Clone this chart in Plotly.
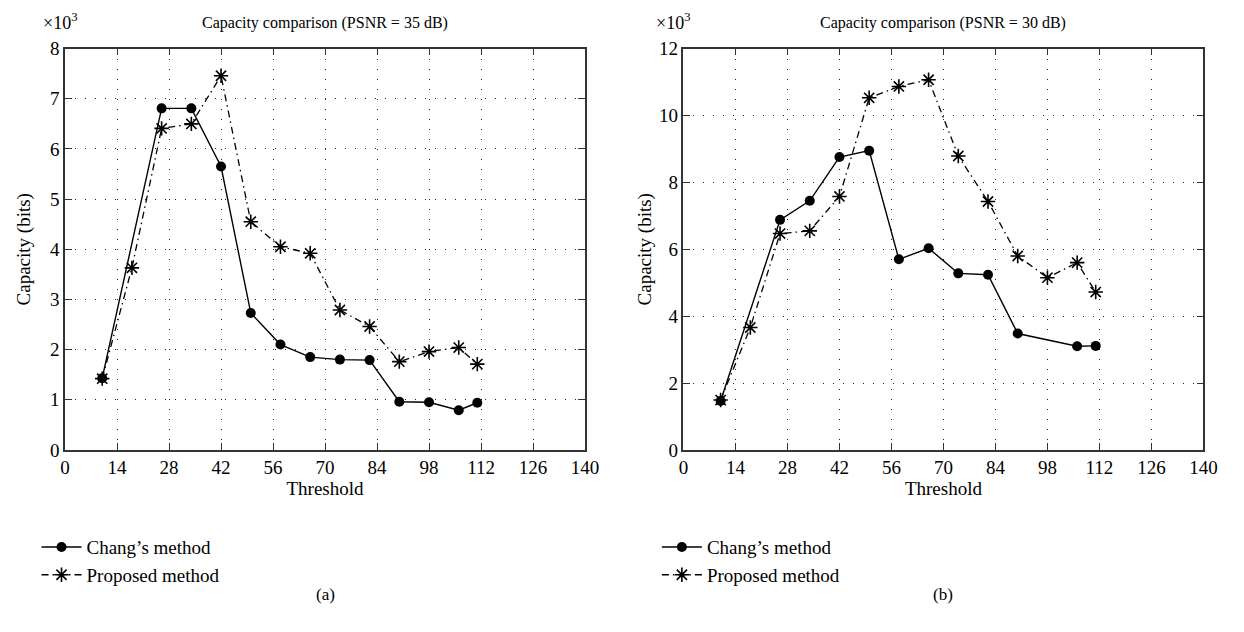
import plotly.graph_objects as go

# ---- data ----
thr_chang_a = [10, 26, 34, 42, 50, 58, 66, 74, 82, 90, 98, 106, 111]
cap_chang_a = [1.43, 6.81, 6.81, 5.65, 2.73, 2.10, 1.85, 1.80, 1.79, 0.96, 0.95, 0.79, 0.94]
thr_prop_a = [10, 18, 26, 34, 42, 50, 58, 66, 74, 82, 90, 98, 106, 111]
cap_prop_a = [1.42, 3.63, 6.41, 6.50, 7.46, 4.55, 4.05, 3.92, 2.79, 2.46, 1.76, 1.96, 2.04, 1.71]

thr_chang_b = [10, 26, 34, 42, 50, 58, 66, 74, 82, 90, 106, 111]
cap_chang_b = [1.46, 6.88, 7.45, 8.76, 8.95, 5.70, 6.03, 5.28, 5.24, 3.48, 3.10, 3.11]
thr_prop_b = [10, 18, 26, 34, 42, 50, 58, 66, 74, 82, 90, 98, 106, 111]
cap_prop_b = [1.49, 3.66, 6.47, 6.55, 7.58, 10.53, 10.87, 11.07, 8.79, 7.43, 5.80, 5.15, 5.60, 4.72]

x_ticks = [0, 14, 28, 42, 56, 70, 84, 98, 112, 126, 140]
y_ticks_a = [0, 1, 2, 3, 4, 5, 6, 7, 8]
y_ticks_b = [0, 2, 4, 6, 8, 10, 12]

titles = ["Capacity comparison (PSNR = 35 dB)", "Capacity comparison (PSNR = 30 dB)"]
series_names = ["Chang\u2019s method", "Proposed method"]
panel_labels = ["(a)", "(b)"]

FONT = "Liberation Serif"
W, H = 1244, 632

def px(sx):
    return sx / W

def py(sy):
    return 1 - sy / H

fig = go.Figure()

def add_pair(xc, yc, xp, yp, xa, ya, leg):
    fig.add_trace(go.Scatter(
        x=xc, y=yc, name=series_names[0], mode="lines+markers",
        line=dict(color="black", width=1.4),
        marker=dict(symbol="circle", size=10, color="black"),
        xaxis=xa, yaxis=ya, legend=leg))
    fig.add_trace(go.Scatter(
        x=xp, y=yp, name=series_names[1], mode="lines+markers",
        line=dict(color="black", width=1.3, dash="7px,4px,1.5px,4px"),
        marker=dict(symbol="asterisk-open", size=12, color="black",
                    line=dict(color="black", width=1.6)),
        xaxis=xa, yaxis=ya, legend=leg))

add_pair(thr_chang_a, cap_chang_a, thr_prop_a, cap_prop_a, "x", "y", "legend")
add_pair(thr_chang_b, cap_chang_b, thr_prop_b, cap_prop_b, "x2", "y2", "legend2")

# pixel geometry of the plot areas
ax_left = [(61, 589), (689, 1217)]
ax_top, ax_bot = 40, 455
ydom = [py(ax_bot), py(ax_top)]

common_axis = dict(
    showline=True, linecolor="#333333", linewidth=1.5, mirror="allticks",
    ticks="inside", ticklen=7, tickwidth=1.3, tickcolor="#333333",
    showgrid=True, gridcolor="#222222", gridwidth=1, griddash="1px,9px",
    zeroline=False, tickfont=dict(family=FONT, size=19, color="black"),
)

ystand = [14, 2]
for i, (l, r) in enumerate(ax_left):
    sfx = "" if i == 0 else str(i + 1)
    yt = y_ticks_a if i == 0 else y_ticks_b
    fig.update_layout(**{
        "xaxis" + sfx: dict(
            common_axis, domain=[px(l), px(r)], range=[0, 140],
            tickvals=x_ticks, anchor="y" + sfx,
            title=dict(text="Threshold", font=dict(family=FONT, size=19, color="black"), standoff=3)),
        "yaxis" + sfx: dict(
            common_axis, domain=ydom, range=[0, yt[-1]], tickvals=yt,
            anchor="x" + sfx,
            title=dict(text="Capacity (bits)", font=dict(family=FONT, size=19, color="black"),
                       standoff=ystand[i])),
    })

mult_x = [37, 659]
annotations = []
for i, (l, r) in enumerate(ax_left):
    annotations.append(dict(
        text=titles[i], x=px((l + r) / 2), y=py(13), xref="paper", yref="paper",
        showarrow=False, font=dict(family=FONT, size=16, color="black"),
        xanchor="center", yanchor="middle"))
    annotations.append(dict(
        text="\u00d710<sup>3</sup>", x=px(mult_x[i]), y=py(12), xref="paper", yref="paper",
        showarrow=False, font=dict(family=FONT, size=18, color="black"),
        xanchor="left", yanchor="middle"))
    annotations.append(dict(
        text=panel_labels[i], x=px((l + r) / 2), y=py(605), xref="paper", yref="paper",
        showarrow=False, font=dict(family=FONT, size=17, color="black"),
        xanchor="center", yanchor="middle"))

legend_common = dict(
    font=dict(family=FONT, size=19, color="black"), bgcolor="rgba(0,0,0,0)",
    xanchor="left", yanchor="top", itemwidth=40, tracegroupgap=0,
)

fig.update_layout(
    width=W, height=H, margin=dict(l=0, r=0, t=0, b=0),
    paper_bgcolor="white", plot_bgcolor="white",
    font=dict(family=FONT, size=19, color="black"),
    legend=dict(legend_common, x=px(32), y=py(536)),
    legend2=dict(legend_common, x=px(662), y=py(536)),
    annotations=annotations,
)

fig.write_html("out.html")
